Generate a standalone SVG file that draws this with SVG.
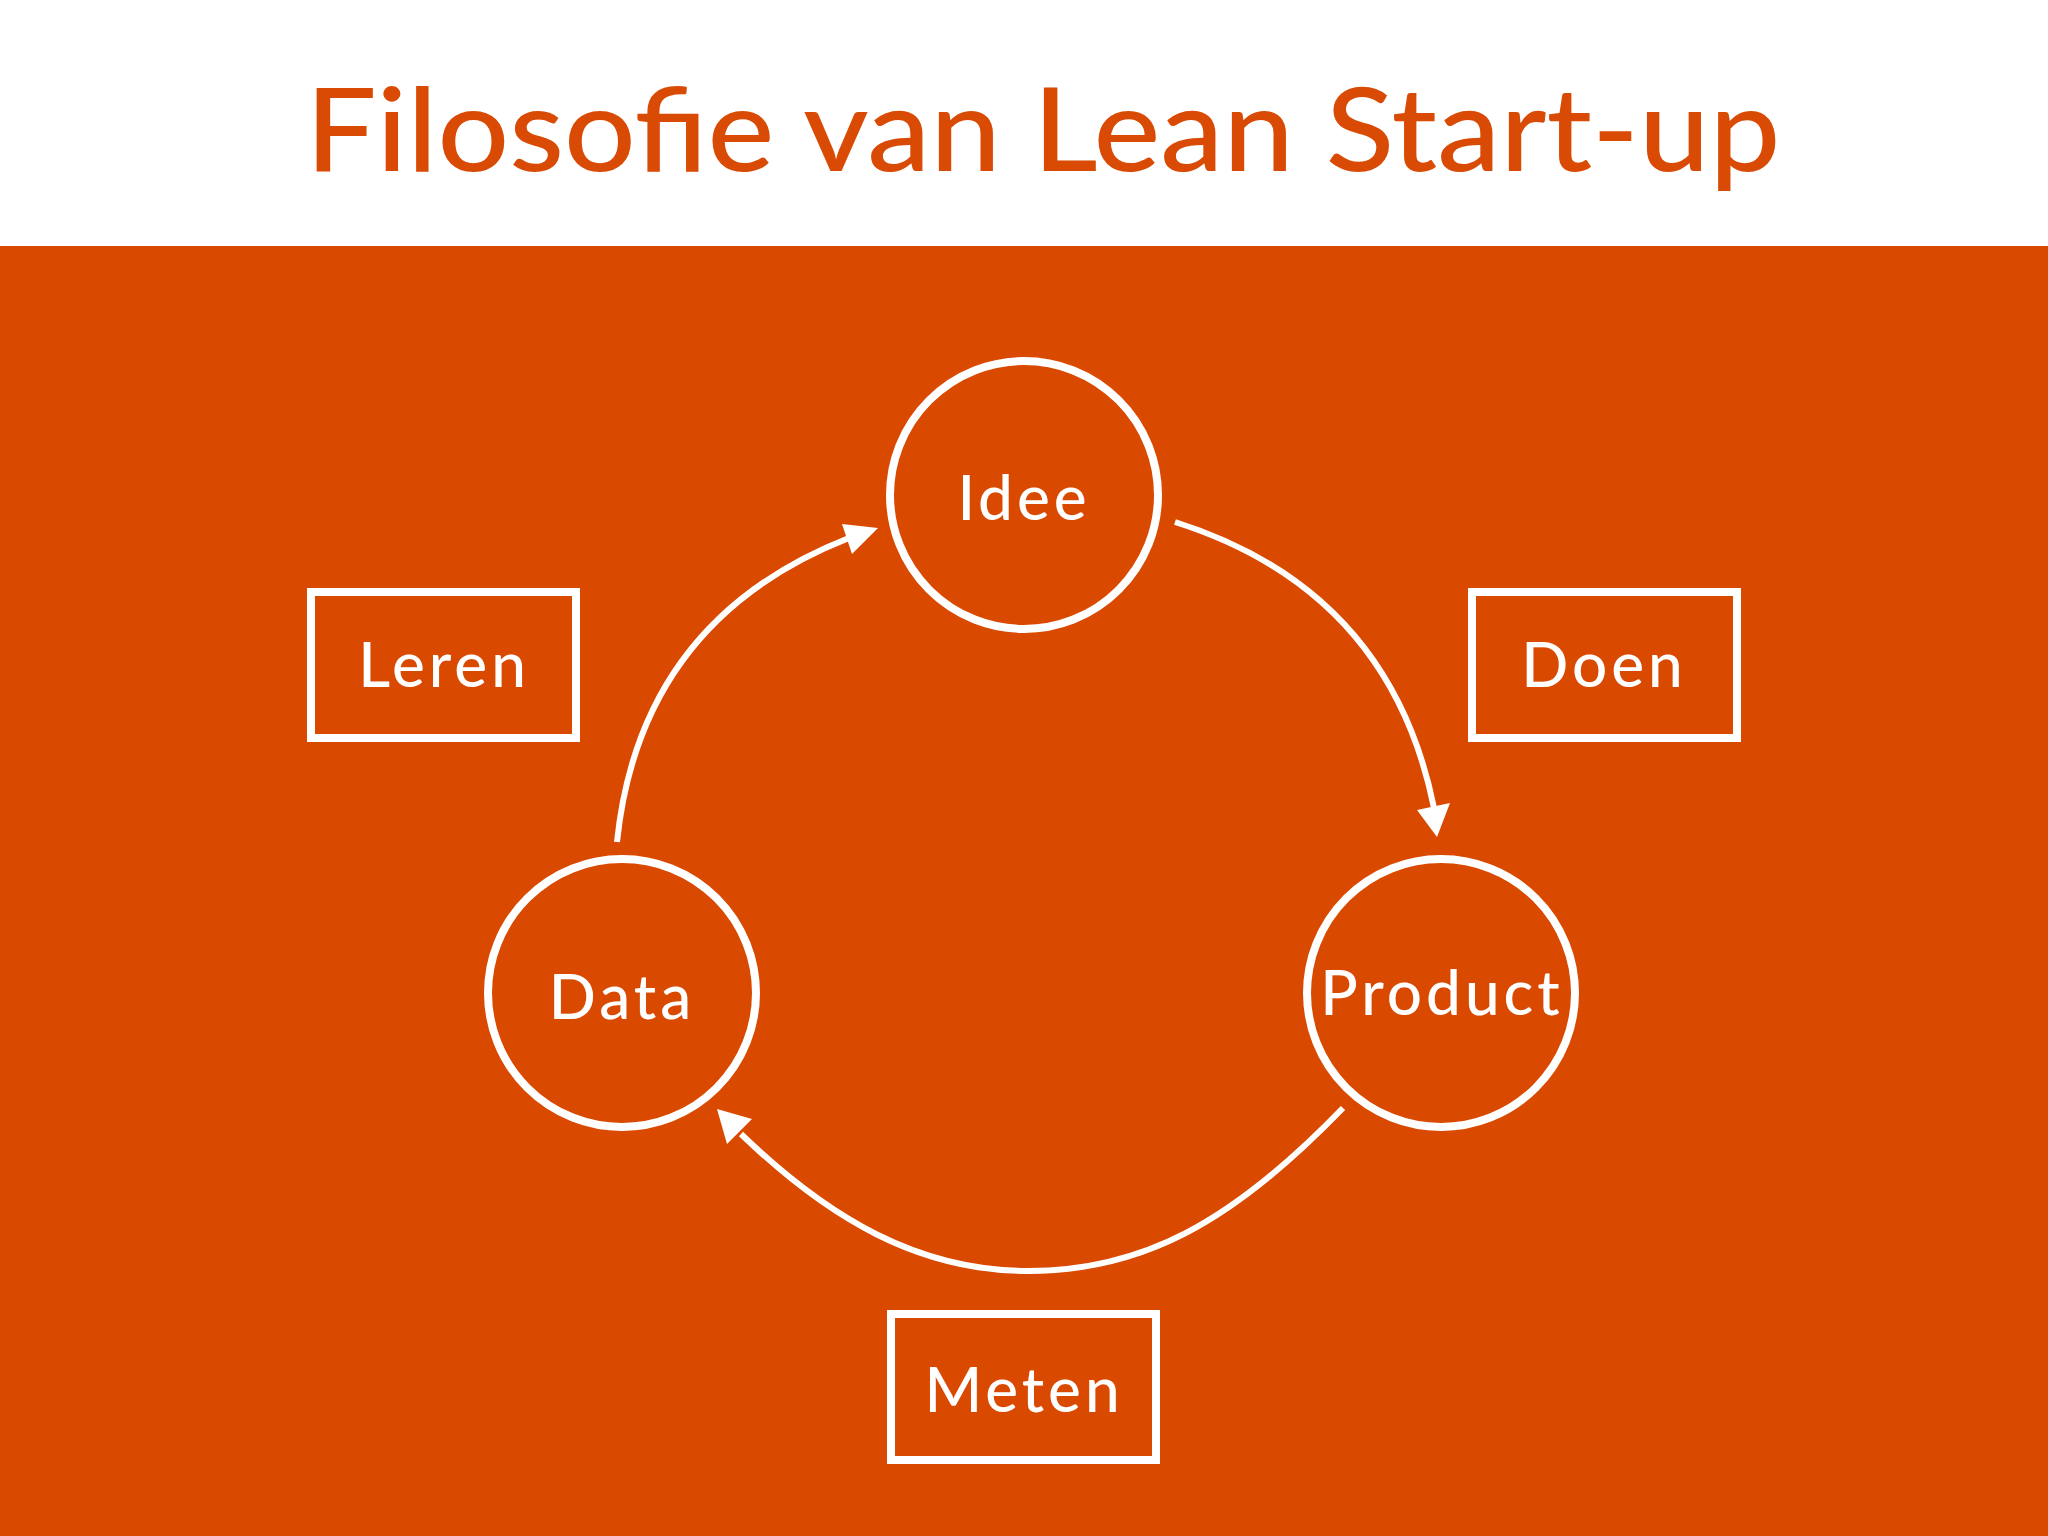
<svg xmlns="http://www.w3.org/2000/svg" width="2048" height="1536" viewBox="0 0 2048 1536">
<style>
.n{fill:none;stroke:#fff;stroke-width:8}
.t{fill:#fff;font-family:Lato,"Liberation Sans",sans-serif;font-size:62px;font-weight:500;text-anchor:middle;letter-spacing:4px}
.c{fill:none;stroke:#fff;stroke-width:6}
.h{fill:#fff}
</style>
<rect width="2048" height="1536" fill="#fff"/>
<rect y="246" width="2048" height="1290" fill="#d94a00"/>
<text x="1043" y="171" font-family="Lato,'Liberation Sans',sans-serif" font-size="116" font-weight="500" fill="#d94a05" text-anchor="middle" textLength="1475" lengthAdjust="spacingAndGlyphs">Filosofie van Lean Start-up</text>
<g id="idee"><circle class="n" cx="1024" cy="495" r="134"/><text class="t" x="1024" y="520">Idee</text></g>
<g id="product"><circle class="n" cx="1441" cy="993" r="134"/><text class="t" x="1442" y="1015">Product</text></g>
<g id="data"><circle class="n" cx="622" cy="993" r="134"/><text class="t" x="622" y="1019">Data</text></g>
<g id="leren"><rect class="n" x="311" y="592" width="265" height="146"/><text class="t" x="444" y="687">Leren</text></g>
<g id="doen"><rect class="n" x="1472" y="592" width="265" height="146"/><text class="t" x="1604" y="687">Doen</text></g>
<g id="meten"><rect class="n" x="891" y="1314" width="265" height="146"/><text class="t" x="1024" y="1412">Meten</text></g>
<g id="connectors">
<path class="c" d="M1175,522 Q1390,590 1434,808"/>
<polygon class="h" points="1437,837 1417,810 1450,803"/>
<path class="c" d="M1343,1108 C1230,1225 1140,1271 1028,1271 C920,1271 830,1220 741,1134"/>
<polygon class="h" points="717,1109 727,1144 752,1119"/>
<path class="c" d="M617,842 Q640,620 849,538"/>
<polygon class="h" points="878,528 842,524 852,554"/>
</g>
</svg>
